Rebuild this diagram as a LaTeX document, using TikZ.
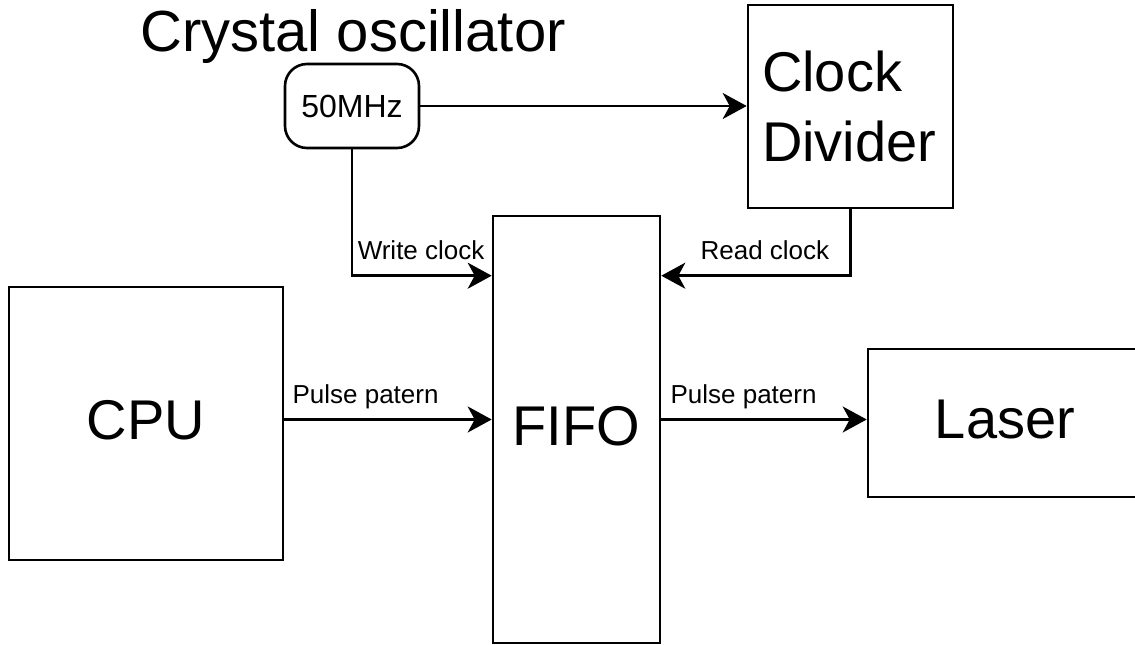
\documentclass[tikz,border=0pt]{standalone}
\usepackage{fontspec}
\setmainfont{Liberation Sans}
\usepackage{tikz}
\usetikzlibrary{arrows.meta}

\begin{document}
\begin{tikzpicture}[x=1pt, y=-1pt, line width=2.6pt,
    block/.style={draw, inner sep=0pt, text depth=8pt, font=\fontsize{56}{70}\selectfont},
    lbl/.style={inner sep=0pt, font=\fontsize{26}{30}\selectfont},
    arr/.style={-{Stealth[length=24pt, width=26pt, inset=7pt]}}]
  \useasboundingbox (0,0) rectangle (1135,645);
  \node[draw, inner sep=0pt, rounded corners=22pt, minimum width=134pt, minimum height=84pt,
        font=\fontsize{32}{38}\selectfont] (osc) at (352,106) {50MHz}; % oscillator
  \node[inner sep=0pt, anchor=base, font=\fontsize{58}{68}\selectfont] (osclbl) at (353,51) {Crystal oscillator};
  \node[draw, inner sep=0pt, minimum width=205pt, minimum height=203pt, text width=177pt, align=left,
        font=\fontsize{56}{70}\selectfont] (div) at (850.5,106.5) {Clock\\Divider};
  \node[block, minimum width=167pt, minimum height=427pt] (fifo) at (576.5,429.5) {FIFO};
  \node[block, minimum width=274pt, minimum height=273pt] (cpu) at (146,423.5) {CPU};
  \node[block, minimum width=274pt, minimum height=148pt] (laser) at (1005,423) {Laser};
  % clocks
  \coordinate (wclk) at ([yshift=-61pt]fifo.north west);
  \coordinate (rclk) at ([yshift=-61pt]fifo.north east);
  \draw[arr] (osc.east) -- (osc.east -| div.west);
  \draw[arr] (osc.south) |- (wclk);
  \draw[arr] (div.south) |- (rclk);
  \node[lbl, anchor=base east] (wlbl) at ([shift={(-6pt,16pt)}]wclk) {Write clock};
  \node[lbl, anchor=base west] (rlbl) at ([shift={(38pt,16pt)}]rclk) {Read clock};
  % data path
  \coordinate (cpuout) at ([yshift=4pt]cpu.east);
  \coordinate (fifoout) at (cpuout -| fifo.east);
  \draw[arr] (cpuout) -- (cpuout -| fifo.west);
  \draw[arr] (fifoout) -- (fifoout -| laser.west);
  \node[lbl, anchor=base west] (plbl1) at ([shift={(7pt,16pt)}]cpuout) {Pulse patern};
  \node[lbl, anchor=base west] (plbl2) at ([shift={(8pt,16pt)}]fifoout) {Pulse patern};
\end{tikzpicture}
\end{document}
